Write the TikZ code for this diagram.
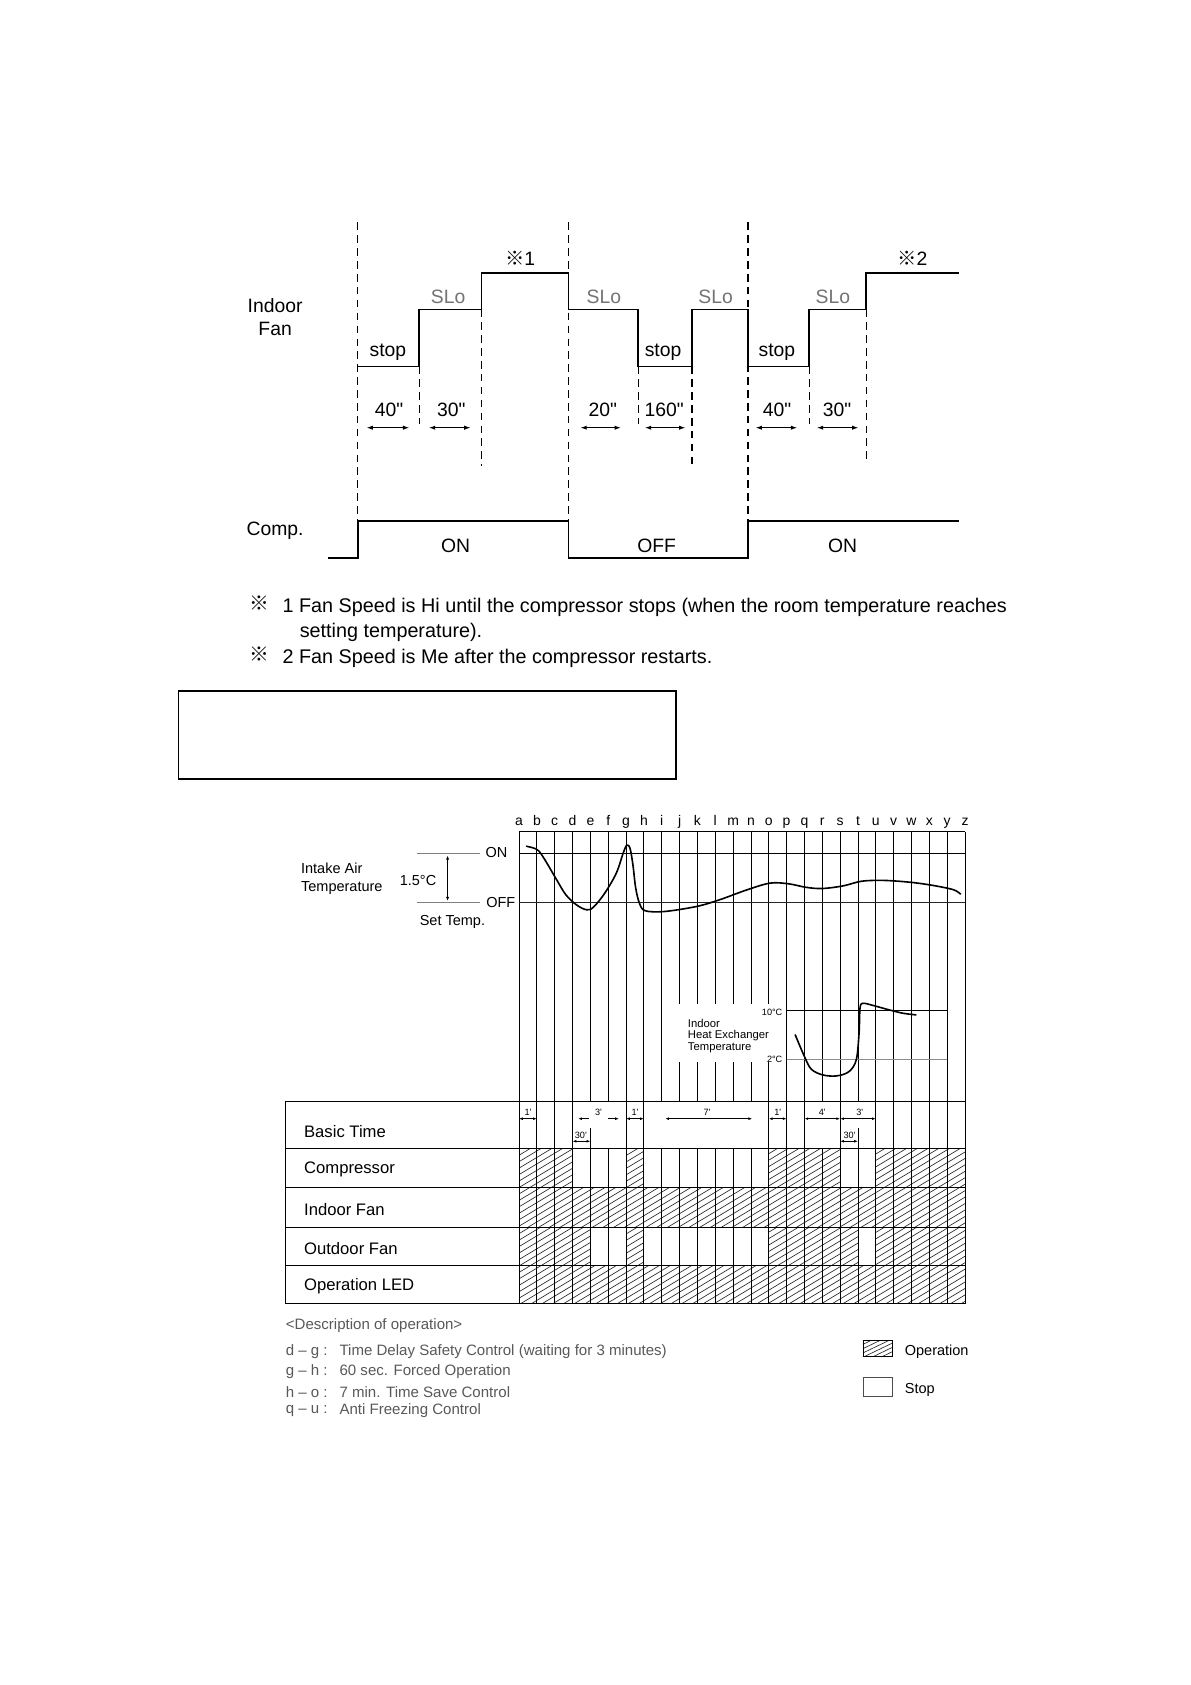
\documentclass[tikz,border=0pt]{standalone}
\usepackage{fontspec}
\setmainfont{Liberation Sans}[Ligatures=TeXOff]
\newfontfamily\refmarkfont{Noto Sans CJK JP}
\usetikzlibrary{arrows.meta}
\newcommand\FsTop{\fontsize{18}{22}\selectfont}
\newcommand\FsNote{\fontsize{18.4}{23}\selectfont}
\newcommand\FsRow{\fontsize{15.5}{18}\selectfont}
\newcommand\FsLab{\fontsize{13.5}{17}\selectfont}
\newcommand\FsDesc{\fontsize{14}{17}\selectfont}
\newcommand\FsLet{\fontsize{13}{15}\selectfont}
\newcommand\FsHx{\fontsize{10.5}{11}\selectfont}
\newcommand\FsTiny{\fontsize{8.5}{10}\selectfont}
\begin{document}
\begin{tikzpicture}[x=1pt,y=-1pt]
\tikzset{
  txt/.style={inner sep=0pt, outer sep=0pt, anchor=mid},
  stepline/.style={line width=1.6pt, black, line join=miter},
  dashv/.style={dash pattern=on 7pt off 5pt, line width=1.1pt},
  dimarrow/.style={{Latex[length=6pt,width=4pt]}-{Latex[length=6pt,width=4pt]}, line width=1.1pt},
  gridline/.style={line width=0.8pt, black},
  smallarr/.style={{Latex[length=3.5pt,width=2.6pt]}-{Latex[length=3.5pt,width=2.6pt]}, line width=0.8pt},
  onearr/.style={-{Latex[length=3.5pt,width=2.6pt]}, line width=0.8pt},
  hatchline/.style={line width=0.6pt, black!85},
  curve/.style={line width=1.5pt, black, line cap=round, line join=round},
  desc/.style={txt, anchor=west, font=\FsDesc, text=black!65},
}
\useasboundingbox (0,0) rectangle (1108,1568);
\fill[white] (0,0) rectangle (1108,1568);

% ================= TOP: fan / compressor timing =================
\foreach \x in {333,529,696} \draw[dashv] (\x,207) -- (\x,485);
\draw[dashv] (390,341) -- (390,395);
\draw[dashv] (448,288) -- (448,434);
\draw[dashv] (594,341) -- (594,395);
\draw[dashv] (644,341) -- (644,432);
\draw[dashv] (753,341) -- (753,395);
\draw[dashv] (806,288) -- (806,430);

\draw[stepline] (333,341) -- (390,341) -- (390,288) -- (448,288) -- (448,254) -- (529,254)
  -- (529,288) -- (594,288) -- (594,341) -- (644,341) -- (644,288) -- (696,288) -- (696,341)
  -- (753,341) -- (753,288) -- (806,288) -- (806,254) -- (892,254);
\draw[stepline] (305,519) -- (333,519) -- (333,485) -- (529,485) -- (529,519) -- (696,519)
  -- (696,485) -- (892,485);

\draw[dimarrow] (341,398) -- (381,398);
\draw[dimarrow] (399,398) -- (438,398);
\draw[dimarrow] (540,398) -- (578,398);
\draw[dimarrow] (600,398) -- (638,398);
\draw[dimarrow] (703,398) -- (742,398);
\draw[dimarrow] (760,398) -- (799,398);

\node[txt, font=\FsTop] (d40a) at (362,384.5) {40"};
\node[txt, font=\FsTop] (d30a) at (420,384.5) {30"};
\node[txt, font=\FsTop] (d20)  at (561,384.5) {20"};
\node[txt, font=\FsTop] (d160) at (618,384.5) {160"};
\node[txt, font=\FsTop] (d40b) at (723,384.5) {40"};
\node[txt, font=\FsTop] (d30b) at (779,384.5) {30"};

\node[txt, font=\FsTop] (stopA) at (361,329) {stop};
\node[txt, font=\FsTop] (stopB) at (617,329) {stop};
\node[txt, font=\FsTop] (stopC) at (723,329) {stop};
\node[txt, font=\FsTop, text=black!55] (sloA) at (417,280) {SLo};
\node[txt, font=\FsTop, text=black!55] (sloB) at (562,280) {SLo};
\node[txt, font=\FsTop, text=black!55] (sloC) at (666,280) {SLo};
\node[txt, font=\FsTop, text=black!55] (sloD) at (775,280) {SLo};

\node[txt, font=\FsTop] (mk1) at (484,244.5) {{\refmarkfont ※}1};
\node[txt, font=\FsTop] (mk2) at (849,244.5) {{\refmarkfont ※}2};

\node[inner sep=0pt, font=\FsTop, align=center, anchor=center] (fanlbl) at (256,295) {Indoor\\Fan};
\node[txt, font=\FsTop] (complbl) at (256,495.5) {Comp.};
\node[txt, font=\FsTop] (on1) at (424,511.5) {ON};
\node[txt, font=\FsTop] (off1) at (611,511.5) {OFF};
\node[txt, font=\FsTop] (on2) at (784,511.5) {ON};

% notes
\node[txt, font=\FsNote] (n1m) at (241,565.5) {\refmarkfont ※};
\node[txt, font=\FsNote, anchor=west] (n1) at (263,565.5) {1 Fan Speed is Hi until the compressor stops (when the room temperature reaches};
\node[txt, font=\FsNote, anchor=west] (n1b) at (279,588.5) {setting temperature).};
\node[txt, font=\FsNote] (n2m) at (241,612.5) {\refmarkfont ※};
\node[txt, font=\FsNote, anchor=west] (n2) at (263,612.5) {2 Fan Speed is Me after the compressor restarts.};

% empty box
\draw[line width=1.2pt] (166,643) rectangle (629,725);

% ================= BOTTOM: timing chart =================
\foreach \l [count=\i from 0] in {a,b,c,d,e,f,g,h,i,j,k,l,m,n,o,p,q,r,s,t,u,v,w,x,y,z}
  \node[txt, font=\FsLet] (L\i) at (483+16.6*\i,765.5) {\l};

% hatch fills in table
\begin{scope}
  \clip \foreach \c in {0,1,2,6,14,15,16,17,20,21,22,23,24} {(483+16.6*\c,1069) rectangle (499.6+16.6*\c,1105)};
  \foreach \k in {0,...,50} \draw[hatchline] (483,1069+\k*6) -- ++(415,-249);
\end{scope}
\begin{scope}
  \clip (483,1105) rectangle (898,1142);
  \foreach \k in {0,...,50} \draw[hatchline] (483,1105+\k*6) -- ++(415,-249);
\end{scope}
\begin{scope}
  \clip \foreach \c in {0,1,2,3,6,14,15,16,17,18,20,21,22,23,24} {(483+16.6*\c,1142) rectangle (499.6+16.6*\c,1178)};
  \foreach \k in {0,...,50} \draw[hatchline] (483,1142+\k*6) -- ++(415,-249);
\end{scope}
\begin{scope}
  \clip (483,1178) rectangle (898,1213);
  \foreach \k in {0,...,50} \draw[hatchline] (483,1178+\k*6) -- ++(415,-249);
\end{scope}

% vertical grid lines
\foreach \i in {0,...,25} \draw[gridline] (483+16.6*\i,774) -- (483+16.6*\i,1025);
\draw[line width=1.3pt] (483+16.6*22,774) -- (483+16.6*22,1025);
\foreach \i in {0,...,25} \draw[gridline] (483+16.6*\i,1069) -- (483+16.6*\i,1213);
\foreach \i in {0,1,2,3,6,7,14,15,16,18,20,21,22,23,24,25} \draw[gridline] (483+16.6*\i,1025) -- (483+16.6*\i,1069);
\foreach \i in {4,19} \draw[gridline] (483+16.6*\i,1050) -- (483+16.6*\i,1069);

% horizontal lines of upper graph
\draw[gridline] (483,774) -- (898,774);
\draw[gridline] (483,794) -- (898,794);
\draw[gridline, black!85] (483,840) -- (898,840);
\draw[line width=0.8pt, black!50] (388,794) -- (447,794);
\draw[line width=0.8pt, black!50] (388,840) -- (447,840);
\draw[{Latex[length=4pt,width=3pt]}-{Latex[length=4pt,width=3pt]}, line width=0.8pt] (416.5,796) -- (416.5,838.5);

\node[txt, font=\FsLab] (onlbl) at (462,795) {ON};
\node[txt, font=\FsLab] (offlbl) at (466,842) {OFF};
\node[txt, font=\FsLab] (degl) at (389,821) {1.5°C};
\node[inner sep=0pt, font=\FsLab, anchor=west, align=left] (intake) at (280,817.5) {Intake Air\\Temperature};
\node[txt, font=\FsLab] (settemp) at (421,858.5) {Set Temp.};

% intake air temperature curve
\draw[curve] plot[smooth, tension=0.55] coordinates {(490,787.5) (496,789) (501,791.5) (507,800) (518,818.7)
  (526.6,832.7) (536.4,842) (545.8,846.6) (552.2,844.2) (562.8,831.1) (573.5,812.5) (579.9,793.9)
  (583.3,786.5) (586.3,789.5) (589,805) (591.5,826) (595,840.4) (600.4,847.5) (618.4,848.2)
  (648.3,843.5) (669.6,837.3) (695.2,828) (716.6,821.8) (733.6,822.4) (750.7,825.8) (765.7,826.8)
  (784.9,824.3) (802,820) (823.3,819.3) (849,821.2) (870.3,824.3) (887.4,828) (893.8,832)};

% heat exchanger area
\fill[white] (624,934) rectangle (729,988);
\draw[gridline] (732,940) -- (881.4,940);
\draw[line width=0.8pt, black!45] (732,986) -- (881.4,986);
\node[txt, font=\FsTiny, anchor=mid east] (t10) at (728,942.5) {10°C};
\node[txt, font=\FsTiny, anchor=mid east] (t2) at (728,986.5) {2°C};
\node[inner sep=0pt, font=\FsHx, anchor=west, align=left] (hxlbl) at (640,964) {Indoor\\Heat Exchanger\\Temperature};
\draw[curve] plot[smooth, tension=0.55] coordinates {(740,963) (748.6,983.2) (755,995) (765.7,1000.3)
  (778.5,1001.2) (790,997.2) (796.8,986.3) (799.4,961.5) (800.3,938.2) (802.8,933.6) (810.5,935.1)
  (827.6,939.8) (840.4,942.9) (852.3,944.4)};

% table frame
\draw[gridline] (266,1025) rectangle (898,1213);
\foreach \y in {1069,1105,1142,1178} \draw[gridline] (266,\y) -- (898,\y);

\node[txt, font=\FsRow, anchor=west] (rBasic) at (283,1052.5) {Basic Time};
\node[txt, font=\FsRow, anchor=west] (rComp) at (283,1088.5) {Compressor};
\node[txt, font=\FsRow, anchor=west] (rInd) at (283,1125.5) {Indoor Fan};
\node[txt, font=\FsRow, anchor=west] (rOut) at (283,1161.5) {Outdoor Fan};
\node[txt, font=\FsRow, anchor=west] (rLed) at (283,1196.5) {Operation LED};

% basic time annotations
\draw[smallarr] (483,1041) -- (499.6,1041);
\node[txt, font=\FsTiny] (bt1a) at (491.3,1035) {1'};
\draw[onearr] (548,1041) -- (538,1041);
\draw[onearr] (566,1041) -- (576,1041);
\node[txt, font=\FsTiny] (bt3a) at (557,1035) {3'};
\draw[smallarr] (532.8,1062) -- (549.4,1062);
\node[txt, font=\FsTiny] (bt30a) at (540.5,1057) {30'};
\draw[smallarr] (582.6,1041) -- (599.2,1041);
\node[txt, font=\FsTiny] (bt1b) at (590.9,1035) {1'};
\draw[smallarr] (619,1041) -- (700,1041);
\node[txt, font=\FsTiny] (bt7) at (658,1035) {7'};
\draw[smallarr] (715.4,1041) -- (732,1041);
\node[txt, font=\FsTiny] (bt1c) at (723.7,1035) {1'};
\draw[smallarr] (748.6,1041) -- (781.8,1041);
\node[txt, font=\FsTiny] (bt4) at (765.2,1035) {4'};
\draw[smallarr] (781.8,1041) -- (815,1041);
\node[txt, font=\FsTiny] (bt3b) at (800,1035) {3'};
\draw[smallarr] (781.8,1062) -- (798.4,1062);
\node[txt, font=\FsTiny] (bt30b) at (790.5,1057) {30'};

% description
\node[desc] (dtitle) at (266,1234) {<Description of operation>};
\node[desc] (dk1) at (266,1258) {d – g :};
\node[desc] (dv1) at (316,1258) {Time Delay Safety Control (waiting for 3 minutes)};
\node[desc] (dk2) at (266,1276) {g – h :};
\node[desc] (dv2) at (316,1276) {60 sec. Forced Operation};
\node[desc] (dk3) at (266,1295) {h – o :};
\node[desc] (dv3) at (316,1295) {7 min. Time Save Control};
\node[desc] (dk4) at (266,1313) {q – u :};
\node[desc] (dv4) at (316,1313) {Anti Freezing Control};

% legend
\begin{scope}
  \clip (803,1247) rectangle (830,1262);
  \foreach \k in {0,...,12} \draw[hatchline] (803,1247+\k*4) -- ++(27,-13);
\end{scope}
\draw[line width=0.8pt] (803,1247) rectangle (830,1262);
\node[txt, font=\FsLab, anchor=west] (legop) at (842,1258) {Operation};
\draw[line width=0.8pt, black!70] (803,1282) rectangle (830,1299);
\node[txt, font=\FsLab, anchor=west] (legst) at (842,1293) {Stop};
\end{tikzpicture}
\end{document}
